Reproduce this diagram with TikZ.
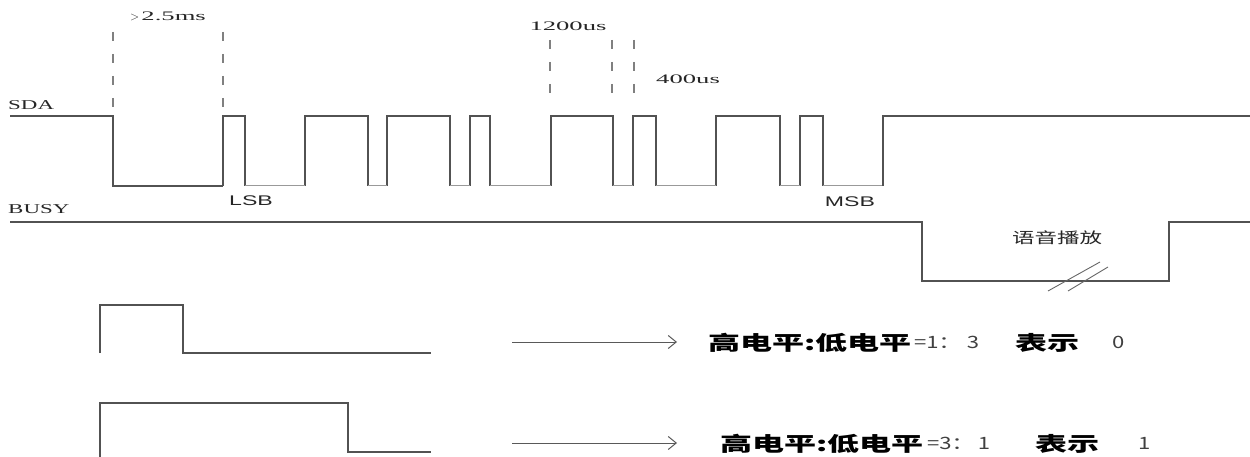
\documentclass[tikz,border=0pt]{standalone}
\usepackage{fontspec}
\setmainfont{Liberation Serif}
\newfontfamily\cjkw{Noto Sans CJK SC}[FakeStretch=1.6]
\newfontfamily\cjkp{Noto Sans CJK SC}[FakeStretch=1.5]
\newfontfamily\cjkn{Noto Sans CJK SC}[FakeStretch=1.3]
\newfontfamily\serifw{Liberation Serif}[FakeStretch=1.7]
\newfontfamily\serifn{Liberation Serif}[FakeStretch=2.05]
\newfontfamily\arialw{Liberation Sans}[FakeStretch=1.65]
\usetikzlibrary{arrows.meta}
\begin{document}
\begin{tikzpicture}[x=1pt,y=-1pt,
  wave/.style={draw=black!68,line width=1.6pt,line join=miter},
  lowseg/.style={draw=black!40,line width=1pt},
  guide/.style={draw=black!50,line width=2.8pt,dash pattern=on 9pt off 13pt},
  lbl/.style={inner sep=0pt,text=black!85},
  arr/.style={draw=black!65,line width=1pt,-{Straight Barb[length=8pt,width=13pt]}},
  zh/.style={inner sep=0pt,anchor=west,font=\cjkw\bfseries\fontsize{20}{20}\selectfont},
  num/.style={inner sep=0pt,anchor=west,font=\cjkn\fontsize{17}{17}\selectfont,text=black!75}]
\useasboundingbox (0,0) rectangle (1250,457);
% SDA waveform: start bit, data pulses, light low segments, final high
\draw[wave] (10,116) -- (113,116) -- (113,186) -- (223,186);
\foreach \a/\b in {223/245,305/368,387/450,470/490,551/613,633/656,716/780,800/823}
  \draw[wave] (\a,186) -- (\a,116) -- (\b,116) -- (\b,186);
\foreach \a/\b in {245/305,368/387,450/470,490/551,613/633,656/716,780/800,823/883}
  \draw[lowseg] (\a,186) -- (\b,186);
\draw[wave] (883,186) -- (883,116) -- (1250,116);
% BUSY waveform
\draw[wave] (10,222) -- (922,222) -- (922,281) -- (1169,281) -- (1169,222) -- (1250,222);
% break marks
\draw[draw=black!60,line width=0.9pt] (1048,291) -- (1100,262);
\draw[draw=black!60,line width=0.9pt] (1068,291) -- (1108,267);
% guides
\coordinate (g1t) at (113,32); \coordinate (g1b) at (113,112);
\coordinate (g2t) at (223,32); \coordinate (g2b) at (223,112);
\coordinate (g3t) at (550,40); \coordinate (g3b) at (550,97);
\coordinate (g4t) at (612,40); \coordinate (g4b) at (612,97);
\coordinate (g5t) at (634,40); \coordinate (g5b) at (634,97);
\draw[guide] (g1t) -- (g1b);
\draw[guide] (g2t) -- (g2b);
\draw[guide] (g3t) -- (g3b);
\draw[guide] (g4t) -- (g4b);
\draw[guide] (g5t) -- (g5b);
% labels
\node[lbl,font=\serifw\fontsize{13.5}{13.5}\selectfont,anchor=west] (sda) at (8,105) {SDA};
\node[lbl,font=\serifw\fontsize{13.5}{13.5}\selectfont,anchor=west] (busy) at (8,209) {BUSY};
\node[lbl,font=\serifn\fontsize{13}{13}\selectfont] (t25) at (168,16) {$>$\,2.5ms};
\node[lbl,font=\serifn\fontsize{13}{13}\selectfont] (t1200) at (568,26) {1200us};
\node[lbl,font=\serifn\fontsize{13}{13}\selectfont,anchor=west] (t400) at (656,79) {400us};
\node[lbl,font=\arialw\fontsize{14}{14}\selectfont] (lsb) at (251,201) {LSB};
\node[lbl,font=\arialw\fontsize{14}{14}\selectfont] (msb) at (850,202) {MSB};
\node[lbl,font=\cjkp\fontsize{15}{15}\selectfont] (play) at (1057,238) {语音播放};
% bottom examples
\draw[wave] (100,353) -- (100,305) -- (183,305) -- (183,353) -- (431,353);
\draw[wave] (100,457) -- (100,403) -- (348,403) -- (348,452) -- (431,452);
\coordinate (a1s) at (512,342); \coordinate (a1e) at (677,342);
\coordinate (a2s) at (512,443); \coordinate (a2e) at (677,443);
\draw[arr] (a1s) -- (a1e);
\draw[arr] (a2s) -- (a2e);
\node[zh] (z1a) at (708,343) {高电平:低电平};
\node[num] (z1b) at (914,342) {=1：\hspace{6pt}3};
\node[zh] (z1c) at (1015,343) {表示};
\node[num] (z1d) at (1112,342) {0};
\node[zh] (z2a) at (720,444) {高电平:低电平};
\node[num] (z2b) at (927,443) {=3：\hspace{4pt}1};
\node[zh] (z2c) at (1035,444) {表示};
\node[num] (z2d) at (1138,443) {1};
\end{tikzpicture}
\end{document}
